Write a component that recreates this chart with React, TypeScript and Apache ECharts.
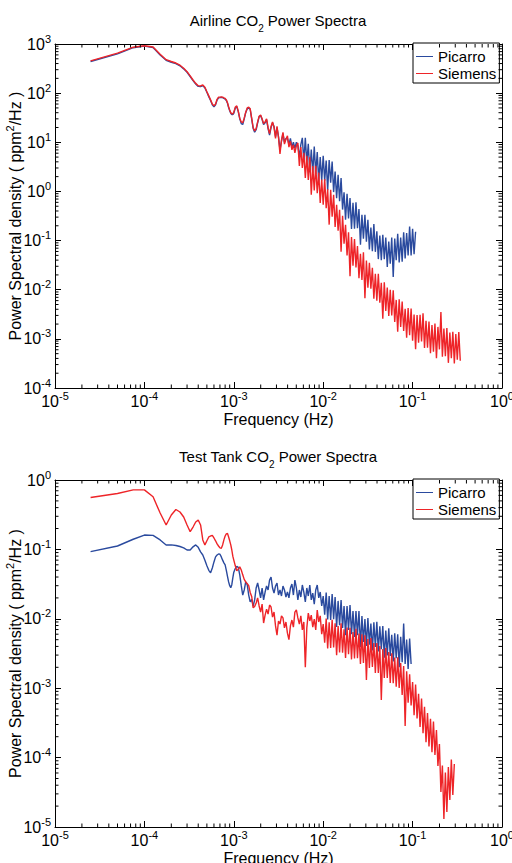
import React, { useEffect, useRef } from 'react';
import * as echarts from 'echarts';

// Frequency grid (Hz) shared by all spectra
const freq = [
  2.5e-5, 5e-5, 7.5e-5, 1e-4, 1.25e-4, 1.5e-4, 1.75e-4, 2e-4, 2.25e-4, 2.5e-4,
  2.75e-4, 3e-4, 3.25e-4, 3.5e-4, 3.75e-4, 4e-4, 4.25e-4, 4.5e-4, 4.75e-4, 5e-4,
  5.25e-4, 5.5e-4, 5.75e-4, 6e-4, 6.25e-4, 6.5e-4, 6.75e-4, 7e-4, 7.25e-4, 7.5e-4,
  7.75e-4, 8e-4, 8.25e-4, 8.5e-4, 8.75e-4, 9e-4, 9.25e-4, 9.5e-4, 9.75e-4,
  0.001, 0.001039, 0.00108, 0.001122, 0.001166, 0.001212, 0.001259, 0.001308, 0.001359, 0.001413,
  0.001468, 0.001525, 0.001585, 0.001647, 0.001711, 0.001778, 0.001848, 0.00192, 0.001995, 0.002073,
  0.002154, 0.002239, 0.002326, 0.002417, 0.002512, 0.00261, 0.002712, 0.002818, 0.002929, 0.003043,
  0.003162, 0.003286, 0.003415, 0.003548, 0.003687, 0.003831, 0.003981, 0.004137, 0.004299, 0.004467,
  0.004642, 0.004823, 0.005012, 0.005208, 0.005412, 0.005623, 0.005843, 0.006072, 0.00631, 0.006556,
  0.006813, 0.007079, 0.007356, 0.007644, 0.007943, 0.008254, 0.008577, 0.008913, 0.009261, 0.009624,
  0.01, 0.01039, 0.0108, 0.01122, 0.01166, 0.01212, 0.01259, 0.01308, 0.01359, 0.01413,
  0.01468, 0.01525, 0.01585, 0.01647, 0.01711, 0.01778, 0.01848, 0.0192, 0.01995, 0.02073,
  0.02154, 0.02239, 0.02326, 0.02417, 0.02512, 0.0261, 0.02712, 0.02818, 0.02929, 0.03043,
  0.03162, 0.03286, 0.03415, 0.03548, 0.03687, 0.03831, 0.03981, 0.04137, 0.04299, 0.04467,
  0.04642, 0.04823, 0.05012, 0.05208, 0.05412, 0.05623, 0.05843, 0.06072, 0.0631, 0.06556,
  0.06813, 0.07079, 0.07356, 0.07644, 0.07943, 0.08254, 0.08577, 0.08913, 0.09261, 0.09624,
  0.1, 0.1039, 0.108, 0.1122, 0.1166, 0.1212, 0.1259, 0.1308, 0.1359, 0.1413,
  0.1468, 0.1525, 0.1585, 0.1647, 0.1711, 0.1778, 0.1848, 0.192, 0.1995, 0.2073,
  0.2154, 0.2239, 0.2326, 0.2417, 0.2512, 0.261, 0.2712, 0.2818, 0.2929, 0.3043,
  0.3162, 0.3286, 0.3415,
];

// Airline CO2 power spectra (ppm^2/Hz)
const airlinePicarro = [
  440, 630, 840, 905, 850, 600, 465, 425, 400, 360,
  312, 266, 218, 180, 153, 137, 136, 142, 128, 104,
  85, 71, 58, 53, 58, 72, 80, 81, 82, 81,
  78, 76, 71, 62, 51, 44, 39, 36.5, 36.5,
  39, 50, 53, 42, 30, 24, 23, 30, 40, 48,
  50, 47, 30, 19, 16, 18, 25, 33, 35, 29,
  23, 25, 29, 19, 14, 20, 25, 21, 13, 20,
  13, 7, 10.5, 15, 10, 12, 12, 9, 12, 8,
  10, 7.5, 10, 8.5, 5, 9,
  12.3, 4.0, 12.3, 3.81, 9.3, 2.46, 7.1, 2.37, 8.2, 2.28,
  6.3, 1.58, 5.0, 1.67, 5.3, 1.66, 4.27, 1.06, 4.35, 1.50,
  4.07, 0.97, 2.53, 0.73, 2.17, 0.63, 1.87, 0.427, 0.96, 0.265,
  0.90, 0.283, 0.73, 0.172, 0.59, 0.175, 0.60, 0.179, 0.44, 0.082,
  0.334, 0.109, 0.334, 0.095, 0.265, 0.066, 0.185, 0.061, 0.218, 0.059,
  0.154, 0.042, 0.126, 0.040, 0.131, 0.042, 0.115, 0.029, 0.096, 0.034,
  0.115, 0.0182, 0.110, 0.040, 0.137, 0.036, 0.115, 0.037, 0.147, 0.043,
  0.143, 0.050, 0.194, 0.0495, 0.174, 0.053, 0.151,
];

const airlineSiemens = [
  455, 650, 860, 920, 870, 620, 480, 440, 410, 370,
  321, 274, 224, 185, 158, 142, 140, 147, 132, 107,
  88, 73, 60, 55, 60, 75, 83, 83, 84, 83,
  80, 78, 73, 64, 53, 45.6, 40, 38, 38,
  41, 52, 55, 43, 31, 26, 25, 31, 41, 50,
  52, 48, 31, 20, 17, 19, 26, 34, 36, 30,
  24, 26, 30, 20, 15, 21, 26, 20, 12, 21,
  12.5, 5.8, 11, 16, 9.2, 11.5, 13.5, 8, 10.5, 7,
  8.9, 6.1, 8.5, 9.7, 3.3, 8,
  3.02, 6.09, 1.89, 5.29, 1.72, 4.96, 0.861, 3.28, 1.05, 3.31,
  0.918, 2.41, 0.58, 1.75, 0.534, 1.79, 0.456, 1.10, 0.211, 1.08,
  0.305, 0.853, 0.19, 0.534, 0.158, 0.423, 0.059, 0.319, 0.086, 0.209,
  0.0495, 0.147, 0.0189, 0.118, 0.0308, 0.107, 0.0283, 0.0776, 0.0171, 0.054,
  0.0158, 0.058, 0.00668, 0.0393, 0.011, 0.0354, 0.0105, 0.028, 0.00656, 0.0211,
  0.00597, 0.0211, 0.00544, 0.0139, 0.00258, 0.0141, 0.0037, 0.0111, 0.00291, 0.0100,
  0.00299, 0.00973, 0.0022, 0.0062, 0.0014, 0.00638, 0.00175, 0.00575, 0.00144, 0.00411,
  0.00105, 0.00423, 0.00118, 0.00415, 0.00092, 0.00313, 0.000615, 0.00305, 0.00083, 0.0031,
  0.000885, 0.00331, 0.00065, 0.00232, 0.00066, 0.00226, 0.00051, 0.00191, 0.000545, 0.00204,
  0.000403, 0.00175, 0.00061, 0.0035, 0.000435, 0.00163, 0.000443, 0.00166, 0.000325, 0.00134,
  0.000403, 0.00139, 0.000316, 0.00125, 0.000378, 0.00137, 0.00036,
];

// Test tank CO2 power spectra (ppm^2/Hz)
const tankPicarro = [
  0.093, 0.112, 0.14, 0.161, 0.159, 0.137, 0.116, 0.116, 0.114, 0.110,
  0.105, 0.098, 0.098, 0.109, 0.116, 0.107, 0.092, 0.083, 0.070, 0.058,
  0.050, 0.046, 0.054, 0.066, 0.078, 0.083, 0.086, 0.085, 0.078, 0.070,
  0.064, 0.060, 0.050, 0.041, 0.034, 0.030, 0.028, 0.031, 0.039,
  0.047, 0.053, 0.057, 0.055, 0.043, 0.030, 0.022, 0.026, 0.034, 0.031,
  0.022, 0.0175, 0.019, 0.0152, 0.0187,
  0.0278, 0.0328, 0.0260, 0.0200, 0.0278, 0.0187, 0.0243, 0.0297, 0.0260, 0.0362,
  0.040, 0.0278, 0.0235, 0.0297, 0.0328, 0.0220, 0.0260, 0.0213, 0.0297, 0.0260,
  0.0206, 0.0243, 0.0200, 0.0278, 0.0317, 0.0220, 0.0362, 0.0278, 0.0187, 0.0260,
  0.0206, 0.0307, 0.0243, 0.0175, 0.0278, 0.0213, 0.0307, 0.0187, 0.0235, 0.0163,
  0.0260, 0.0307, 0.0200, 0.0243, 0.0153, 0.0213,
  0.01142, 0.02387, 0.0098, 0.0212, 0.0096, 0.0228, 0.0099, 0.0206, 0.0076, 0.0181,
  0.0081, 0.0187, 0.0074, 0.0153, 0.0058, 0.0153, 0.0069, 0.0158, 0.0060, 0.01296,
  0.00547, 0.01296, 0.0058, 0.01296, 0.00393, 0.01097, 0.00463, 0.0099, 0.00406, 0.01027,
  0.00422, 0.00853, 0.00351, 0.00893, 0.00393, 0.00906, 0.00337, 0.00778, 0.00365, 0.00788,
  0.00274, 0.00676, 0.00297, 0.00732, 0.00291, 0.00588, 0.00242, 0.00616, 0.00271, 0.0060,
  0.002, 0.0055, 0.00237, 0.00853, 0.00223, 0.00503, 0.00189, 0.0052, 0.00223,
];

const tankSiemens = [
  0.56, 0.64, 0.72, 0.72, 0.574, 0.334, 0.225, 0.313, 0.376, 0.346,
  0.293, 0.225, 0.18, 0.21, 0.248, 0.265, 0.225, 0.137, 0.116, 0.133,
  0.151, 0.156, 0.159, 0.146, 0.133, 0.12, 0.112, 0.105, 0.104, 0.116,
  0.137, 0.156, 0.167, 0.17, 0.151, 0.133, 0.116, 0.098, 0.08,
  0.070, 0.058, 0.049, 0.052, 0.056, 0.0505, 0.043, 0.037, 0.034, 0.032,
  0.030, 0.024, 0.021, 0.0144, 0.015,
  0.0169, 0.0200, 0.0153, 0.0125, 0.0163, 0.0087, 0.0113, 0.0138, 0.0117, 0.0158,
  0.0148, 0.0106, 0.0125, 0.0079, 0.0058, 0.0093, 0.0084, 0.0110, 0.0103, 0.0074,
  0.0090, 0.0062, 0.0050, 0.0079, 0.0096, 0.0076, 0.0125, 0.0134, 0.0103, 0.0084,
  0.0110, 0.0069, 0.0090, 0.0020, 0.0074, 0.0121, 0.0093, 0.0113, 0.0076, 0.0099,
  0.0069, 0.0134, 0.0090, 0.0110, 0.0060, 0.0084,
  0.00451, 0.01007, 0.00375, 0.00893, 0.00380, 0.00968, 0.00385, 0.00859, 0.00299, 0.00788,
  0.00326, 0.00865, 0.00324, 0.00704, 0.00272, 0.00747, 0.00309, 0.00742, 0.0026, 0.00645,
  0.00269, 0.00718, 0.00271, 0.00612, 0.00223, 0.0060, 0.00231, 0.0058, 0.00131, 0.00512,
  0.00196, 0.00529, 0.00202, 0.00448, 0.00166, 0.00448, 0.00166, 0.00406, 0.000676, 0.00367,
  0.0014, 0.0038, 0.0014, 0.00332, 0.00119, 0.00319, 0.00118, 0.00276, 0.00105, 0.0028,
  0.00101, 0.00231, 0.000798, 0.00209, 0.000285, 0.00175, 0.000616, 0.00159, 0.000562, 0.00123,
  0.000408, 0.00113, 0.000365, 0.00083, 0.000276, 0.000708, 0.000225, 0.00054, 0.000166, 0.00044,
  0.000145, 0.000362, 0.00012, 0.00033, 0.000109, 0.00025, 0.0000757, 0.000157, 0.000032, 0.0000769,
  0.000013, 0.000061, 0.0000164, 0.0000732, 0.0000245, 0.000094, 0.000029, 0.000081,
];

const seriesNames = ['Picarro', 'Siemens'];
const titles = ['Airline CO{sub|2} Power Spectra', 'Test Tank CO{sub|2} Power Spectra'];
const xLabel = 'Frequency (Hz)';
const yLabel = 'Power Spectral density ( ppm{sup|2}/Hz )';

const FONT = '"Liberation Sans", Arial, Helvetica, sans-serif';
const BLUE = '#2a4a9e';
const RED = '#ee2428';

const minorTicks = (lo: number, hi: number) => {
  const out: number[] = [];
  for (let e = lo; e < hi; e++) {
    for (let m = 2; m <= 9; m++) out.push(m * Math.pow(10, e));
  }
  return out;
};

const pairs = (vals: number[]) => vals.map((v, i) => [freq[i], v]);

function buildOption() {
  const labelRich = {
    b: { fontSize: 16, lineHeight: 22, fontFamily: FONT, color: '#000' },
    s: { fontSize: 11, lineHeight: 11, verticalAlign: 'top', fontFamily: FONT, color: '#000' },
  };
  const powFmt = (v: number) => `{b|10}{s|${Math.round(Math.log10(v))}}`;
  const base = (min: number, max: number, split: number) => ({
    type: 'log',
    logBase: 10,
    min,
    max,
    splitNumber: split,
    splitLine: { show: false },
    axisLine: { show: true, lineStyle: { color: '#000', width: 1 } },
    axisTick: { show: true, inside: true, length: 6, lineStyle: { color: '#000', width: 1 } },
    minorTick: { show: false },
  });
  const nameStyle = {
    fontSize: 16,
    fontFamily: FONT,
    color: '#000',
    lineHeight: 22,
    rich: { sup: { fontSize: 11, lineHeight: 11, verticalAlign: 'top', fontFamily: FONT, color: '#000' } },
  };
  const grids = [
    { yMin: 1e-4, yMax: 1e3, ySplit: 7 },
    { yMin: 1e-5, yMax: 1, ySplit: 5 },
  ];
  const xAxis: any[] = [];
  const yAxis: any[] = [];
  grids.forEach((g, gi) => {
    xAxis.push({
      ...base(1e-5, 1, 5),
      gridIndex: gi,
      position: 'bottom',
      axisLabel: { formatter: powFmt, rich: labelRich, margin: 2, showMinLabel: true, showMaxLabel: true },
      name: xLabel,
      nameLocation: 'middle',
      nameGap: 22,
      nameMoveOverlap: false,
      nameTextStyle: { fontSize: 16, lineHeight: 18, fontFamily: FONT, color: '#000' },
    });
    xAxis.push({ ...base(1e-5, 1, 5), gridIndex: gi, position: 'top', axisLabel: { show: false } });
    yAxis.push({
      ...base(g.yMin, g.yMax, g.ySplit),
      gridIndex: gi,
      position: 'left',
      axisLabel: { formatter: powFmt, rich: labelRich, margin: 4, showMinLabel: true, showMaxLabel: true },
      name: yLabel,
      nameLocation: 'middle',
      nameRotate: 90,
      nameGap: 29,
      nameMoveOverlap: false,
      nameTextStyle: nameStyle,
    });
    yAxis.push({ ...base(g.yMin, g.yMax, g.ySplit), gridIndex: gi, position: 'right', axisLabel: { show: false } });
  });

  const tickLine = (x1: number, y1: number, x2: number, y2: number) => ({
    type: 'line',
    shape: { x1, y1, x2, y2 },
    style: { stroke: '#000', lineWidth: 1 },
  });

  const minorSeries = (gi: number) => {
    const g = grids[gi];
    const xi = gi * 2;
    const yi = gi * 2;
    return [
      {
        type: 'custom',
        xAxisIndex: xi,
        yAxisIndex: yi,
        silent: true,
        z: 5,
        data: minorTicks(-5, 0).map((v) => [v, g.yMin]),
        renderItem: (_p: any, api: any) => {
          const v = api.value(0);
          const b = api.coord([v, g.yMin]);
          const t = api.coord([v, g.yMax]);
          return {
            type: 'group',
            children: [tickLine(b[0], b[1], b[0], b[1] - 3.5), tickLine(t[0], t[1], t[0], t[1] + 3.5)],
          };
        },
      },
      {
        type: 'custom',
        xAxisIndex: xi,
        yAxisIndex: yi,
        silent: true,
        z: 5,
        data: minorTicks(Math.round(Math.log10(g.yMin)), Math.round(Math.log10(g.yMax))).map((v) => [1e-5, v]),
        renderItem: (_p: any, api: any) => {
          const v = api.value(1);
          const l = api.coord([1e-5, v]);
          const r = api.coord([1, v]);
          return {
            type: 'group',
            children: [tickLine(l[0], l[1], l[0] + 3.5, l[1]), tickLine(r[0], r[1], r[0] - 3.5, r[1])],
          };
        },
      },
    ];
  };

  const lineSeries = (name: string, color: string, vals: number[], gi: number) => ({
    type: 'line',
    name,
    xAxisIndex: gi * 2,
    yAxisIndex: gi * 2,
    data: pairs(vals),
    symbol: 'none',
    showSymbol: false,
    lineStyle: { color, width: 1.4 },
    itemStyle: { color },
    z: 3,
  });

  const legend = (top: number) => ({
    data: seriesNames,
    left: 413,
    top,
    orient: 'vertical',
    icon: 'rect',
    itemWidth: 17,
    itemHeight: 1,
    itemGap: 0,
    padding: [5, 3, 1, 3],
    borderColor: '#000',
    borderWidth: 1,
    backgroundColor: '#fff',
    selectedMode: false,
    textStyle: { fontSize: 15, fontFamily: FONT, color: '#000', lineHeight: 17 },
  });

  const title = (text: string, top: number) => ({
    text,
    left: 278,
    top,
    textAlign: 'center',
    padding: 0,
    textStyle: {
      fontSize: 15,
      fontWeight: 'normal',
      fontFamily: FONT,
      color: '#000',
      lineHeight: 26,
      rich: { sub: { fontSize: 10, lineHeight: 10, verticalAlign: 'bottom', fontFamily: FONT, color: '#000' } },
    },
  });

  const gridBase = { outerBoundsMode: 'none', containLabel: false };

  return {
    animation: false,
    backgroundColor: '#fff',
    title: [title(titles[0], 7), title(titles[1], 443)],
    legend: [legend(43), legend(479)],
    grid: [
      { ...gridBase, left: 55, top: 44, width: 447, height: 344 },
      { ...gridBase, left: 55, top: 480, width: 447, height: 347 },
    ],
    xAxis,
    yAxis,
    series: [
      lineSeries(seriesNames[0], BLUE, airlinePicarro, 0),
      lineSeries(seriesNames[1], RED, airlineSiemens, 0),
      lineSeries(seriesNames[0], BLUE, tankPicarro, 1),
      lineSeries(seriesNames[1], RED, tankSiemens, 1),
      ...minorSeries(0),
      ...minorSeries(1),
    ],
  };
}

export default function App() {
  const ref = useRef<HTMLDivElement>(null);
  useEffect(() => {
    if (!ref.current) return;
    const chart = echarts.init(ref.current, undefined, { renderer: 'svg' });
    chart.setOption(buildOption() as any);
    return () => chart.dispose();
  }, []);
  return (
    <div
      ref={ref}
      style={{ position: 'fixed', left: 0, top: 0, width: 512, height: 863, background: '#fff' }}
    />
  );
}
